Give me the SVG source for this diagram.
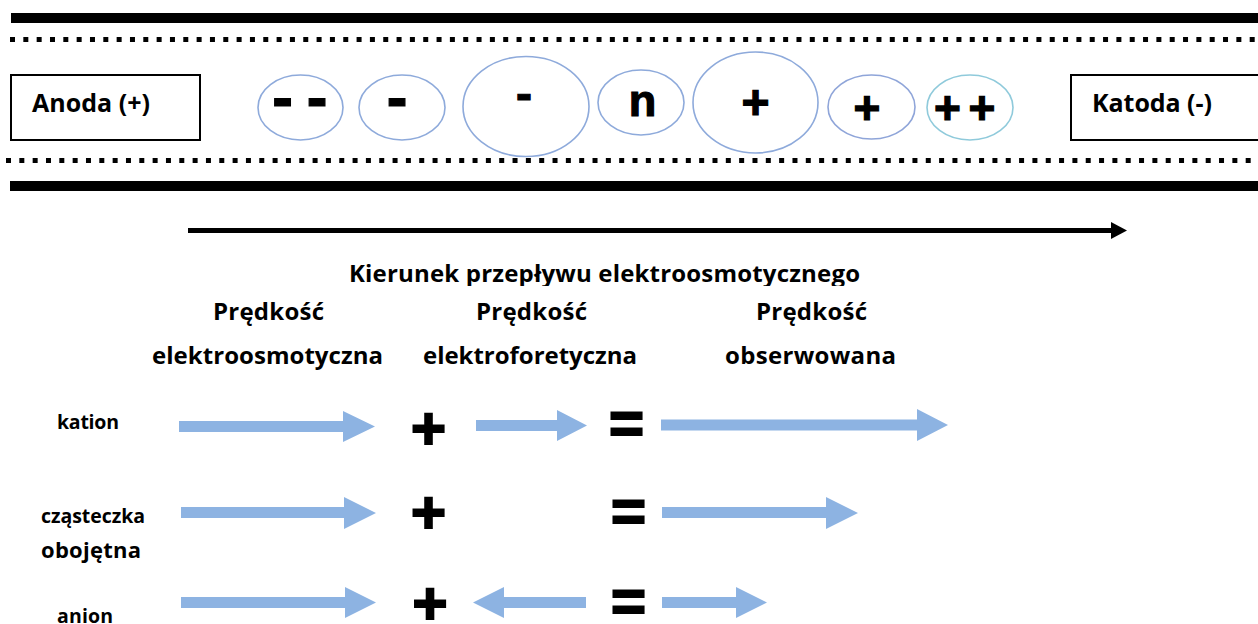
<svg xmlns="http://www.w3.org/2000/svg" width="1258" height="624" viewBox="0 0 1258 624">
<style>
  text { font-family: "Open Sans", "Liberation Sans", Arial, sans-serif; font-weight: bold; fill: #000; }
  .box { fill: #fff; stroke: #000; stroke-width: 2; }
  .lbl { font-size: 25px; }
  .part { fill: #fff; stroke: #8EAADB; stroke-width: 1.6; }
  .sym { font-family: "Liberation Sans", Arial, sans-serif; text-anchor: middle; stroke: #000; stroke-width: 1.2; }
  .hdr { font-size: 24px; }
  .row { font-size: 19.5px; }
  .op { font-family: "Liberation Sans", Arial, sans-serif; font-size: 60px; text-anchor: middle; stroke: #000; stroke-width: 2; }
  .vec { fill: #8DB3E2; }
  .wall { stroke: #000; stroke-width: 10; }
  .dots { stroke: #000; stroke-width: 5; stroke-dasharray: 5 8.33; }
</style>
<defs>
  <clipPath id="clipK"><rect x="0" y="240" width="1258" height="46"/></clipPath>
  <marker id="ah" markerUnits="userSpaceOnUse" markerWidth="16" markerHeight="18" refX="1" refY="8.5" orient="auto">
    <polygon points="0,0 16,8.5 0,17" fill="#000"/>
  </marker>
</defs>
<rect width="1258" height="624" fill="#fff"/>

<g id="capillary">
  <line class="wall" x1="11" y1="18" x2="1258" y2="18"/>
  <line class="dots" x1="10" y1="39.5" x2="1258" y2="39.5"/>
  <line class="dots" x1="6" y1="160.5" x2="1258" y2="160.5"/>
  <line class="wall" x1="10" y1="186" x2="1258" y2="186"/>
</g>

<g id="anode">
  <rect class="box" x="11" y="75" width="189" height="65"/>
  <text class="lbl" x="32" y="112" textLength="118">Anoda (+)</text>
</g>
<g id="cathode">
  <rect class="box" x="1071" y="75" width="200" height="65"/>
  <text class="lbl" x="1092" y="112" textLength="120">Katoda (-)</text>
</g>

<g id="p-dianion">
  <ellipse class="part" cx="300.5" cy="107.5" rx="42.5" ry="32.5"/>
  <text class="sym" x="282.5 317" y="118" font-size="62">--</text>
</g>
<g id="p-anion">
  <ellipse class="part" cx="402" cy="107.5" rx="43" ry="32.5"/>
  <text class="sym" x="397" y="118" font-size="62">-</text>
</g>
<g id="p-anion-large">
  <ellipse class="part" cx="526" cy="106.5" rx="63" ry="50"/>
  <text class="sym" x="524" y="110" font-size="48">-</text>
</g>
<g id="p-neutral">
  <ellipse class="part" cx="641" cy="102.5" rx="43" ry="32.5"/>
  <text class="sym" x="642.5" y="116" font-size="45">n</text>
</g>
<g id="p-cation-large">
  <ellipse class="part" cx="755.5" cy="102.5" rx="62.5" ry="50.5"/>
  <text class="sym" x="755.5" y="119" font-size="48">+</text>
</g>
<g id="p-cation">
  <ellipse class="part" cx="871.5" cy="107" rx="43.5" ry="32" style="stroke:#8FA5D9"/>
  <text class="sym" x="867" y="124" font-size="46">+</text>
</g>
<g id="p-dication">
  <ellipse class="part" cx="970" cy="107.5" rx="43" ry="32.5" style="stroke:#8FCADB"/>
  <text class="sym" x="947.5 982" y="124" font-size="46">++</text>
</g>

<g id="connectors">
  <line x1="188" y1="230.5" x2="1112" y2="230.5" stroke="#000" stroke-width="5" marker-end="url(#ah)"/>
</g>
<text x="349" y="282" font-size="24" textLength="511" clip-path="url(#clipK)">Kierunek przepływu elektroosmotycznego</text>

<g id="headers">
  <text class="hdr" x="213" y="320" textLength="111">Prędkość</text>
  <text class="hdr" x="152" y="364" textLength="231">elektroosmotyczna</text>
  <text class="hdr" x="476" y="320" textLength="111">Prędkość</text>
  <text class="hdr" x="423" y="364" textLength="214">elektroforetyczna</text>
  <text class="hdr" x="756" y="320" textLength="111">Prędkość</text>
  <text class="hdr" x="725" y="364" textLength="171">obserwowana</text>
</g>

<g id="row-labels">
  <text class="row" x="57" y="429" textLength="62">kation</text>
  <text class="row" x="41" y="523" textLength="104">cząsteczka</text>
  <text class="row" x="41" y="558" style="font-size:22px" textLength="100">obojętna</text>
  <text class="row" x="57" y="623" textLength="56">anion</text>
</g>

<g id="row-kation">
  <polygon class="vec" points="179,421 343,421 343,411 375,426.5 343,442 343,432 179,432"/>
  <text class="op" x="428.5" y="449">+</text>
  <polygon class="vec" points="476,420 557,420 557,410 587,425.5 557,441 557,431 476,431"/>
  <text class="op" x="626.5" y="443">=</text>
  <polygon class="vec" points="661,419.5 917,419.5 917,409 948,425 917,441 917,430.5 661,430.5"/>
</g>
<g id="row-neutral">
  <polygon class="vec" points="181,507 344,507 344,497 376,513 344,529 344,518 181,518"/>
  <text class="op" x="428.5" y="532.5">+</text>
  <text class="op" x="628.5" y="531">=</text>
  <polygon class="vec" points="662,507 826,507 826,497 858,513 826,529 826,518 662,518"/>
</g>
<g id="row-anion">
  <polygon class="vec" points="181,597 345,597 345,587 376,602.5 345,618 345,608 181,608"/>
  <text class="op" x="430" y="624">+</text>
  <polygon class="vec" points="586,597 504,597 504,587 473,602.5 504,618 504,608 586,608"/>
  <text class="op" x="628.5" y="620.5">=</text>
  <polygon class="vec" points="662,597 736,597 736,587 767,602.5 736,618 736,608 662,608"/>
</g>
</svg>
